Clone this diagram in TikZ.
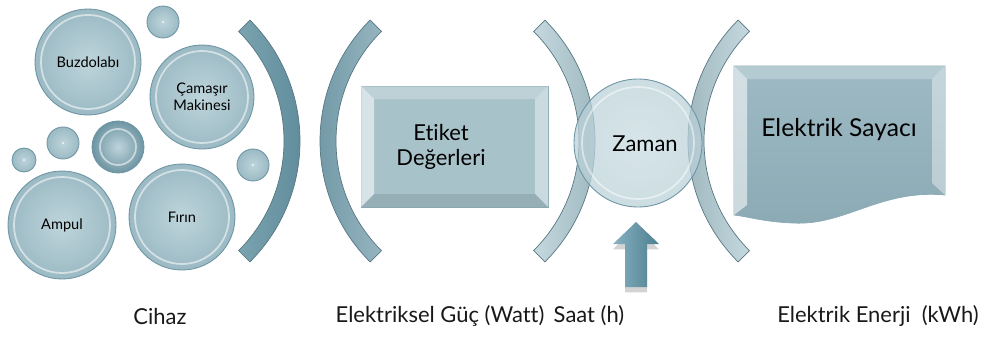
\documentclass[tikz,border=0pt]{standalone}
\usepackage{fontspec}
\setmainfont{Lato}[Ligatures=NoCommon]
\usetikzlibrary{shadows}
\definecolor{bin}{HTML}{BED4DB}
\definecolor{bout}{HTML}{9BBAC4}
\definecolor{bedge}{HTML}{6E95A3}
\definecolor{rectf}{HTML}{A8C2CA}
\definecolor{docf}{HTML}{93B3BE}
\definecolor{arrowl}{HTML}{86B2C1}
\definecolor{arrowr}{HTML}{4D7E8F}
\definecolor{arcd}{HTML}{5A8797}
\definecolor{arcm}{HTML}{7BA3B0}
\begin{document}
\begin{tikzpicture}[x=0.02cm,y=-0.02cm,
  bubble/.style={circle, draw=bedge, line width=0.5pt, inner color=bin, outer color=bout,
    inner sep=0pt, align=center, font=\fontsize{8.3}{9.5}\selectfont, text=black, minimum size=#1},
  ring/.style={draw=white, opacity=0.55, line width=1pt},
  arcedge/.style={draw=bedge!80!black, line width=0.4pt},
  bevlight/.style={fill=white, opacity=0.45},
  bevdark/.style={fill=black, opacity=0.10},
  lbl/.style={font=\fontsize{12.5}{14}\selectfont, text=black!90, anchor=center},
  bigtxt/.style={font=\fontsize{12.5}{14.5}\selectfont, text=black, align=center}]
\useasboundingbox (0,0) rectangle (1000,338);

% ---------- bubbles (devices) ----------
\node[bubble=2.12cm] (buz) at (88,62) {Buzdolabı};
\node[bubble=2.08cm] (cam) at (202,97) {Çamaşır\\Makinesi};
\node[bubble=2.16cm] (amp) at (62,225) {Ampul};
\node[bubble=2.12cm] (fir) at (182,217) {Fırın};
\node[bubble=0.64cm] (b1) at (163,22) {};
\node[bubble=0.64cm] (b2) at (63,143) {};
\node[bubble=0.48cm] (b3) at (24,160) {};
\node[bubble=1.04cm, inner color=bin, outer color=bedge] (b4) at (118,147) {};
\node[bubble=0.64cm] (b5) at (253,165) {};
\draw[ring] (buz.center) circle[radius=47];
\draw[ring] (cam.center) circle[radius=46];
\draw[ring] (amp.center) circle[radius=48];
\draw[ring] (fir.center) circle[radius=47];
\draw[ring] (b4.center) circle[radius=18];
\foreach \b in {b1,b2,b3,b5} \fill[white,opacity=0.8] (\b.center) circle[radius=1.2];

% ---------- arcs ----------
\path[arcedge, left color=arcm, right color=arcd]
  ([shift={(129,141)}]-45:171) arc[start angle=-45,end angle=45,radius=171]
  -- ([shift={(129,141)}]45:155) arc[start angle=45,end angle=-45,radius=155] -- cycle;
\path[arcedge, left color=arcd!90, right color=arcm!80]
  ([shift={(491,141)}]135:171) arc[start angle=135,end angle=225,radius=171]
  -- ([shift={(491,141)}]225:155) arc[start angle=225,end angle=135,radius=155] -- cycle;
\path[arcedge, left color=bin, right color=bout!90!black, fill opacity=0.9]
  ([shift={(424,141)}]-45:171) arc[start angle=-45,end angle=45,radius=171]
  -- ([shift={(424,141)}]45:155) arc[start angle=45,end angle=-45,radius=155] -- cycle;
\path[arcedge, left color=bout!90!black, right color=bin, fill opacity=0.9]
  ([shift={(859,141)}]135:171) arc[start angle=135,end angle=225,radius=171]
  -- ([shift={(859,141)}]225:155) arc[start angle=225,end angle=135,radius=155] -- cycle;

% ---------- Etiket Degerleri (bevelled rectangle) ----------
\node[draw=bedge!80, line width=0.4pt, fill=rectf, minimum width=3.74cm, minimum height=2.42cm,
  inner sep=0pt] (etiket) at (454.5,146.5) {};
\fill[bevlight, opacity=0.25] (361,86) -- (548,86) -- (535,99) -- (374,99) -- cycle;
\fill[bevlight, opacity=0.55] (361,86) -- (374,99) -- (374,194) -- (361,207) -- cycle;
\fill[bevlight, opacity=0.40] (548,86) -- (535,99) -- (535,194) -- (548,207) -- cycle;
\fill[bevdark] (361,207) -- (374,194) -- (535,194) -- (548,207) -- cycle;
\node[bigtxt] at (441,147) {Etiket\\Değerleri};

% ---------- Zaman ----------
\node[circle, draw=bedge, line width=0.5pt, inner color=bin!85!white, outer color=bin!85!bout,
  fill opacity=0.72, minimum size=2.56cm, inner sep=0pt] (zaman) at (638,143) {};
\draw[ring, opacity=0.5] (zaman.center) circle[radius=56];
\node[bigtxt] at (645,144) {Zaman};

% ---------- Elektrik Sayaci (document shape) ----------
\path[draw=bedge!80, line width=0.4pt, top color=docf!90!white, bottom color=docf!95!black]
  (734,66) -- (945,66) -- (945,195)
  .. controls (880,189) and (845,226) .. (793,223)
  .. controls (765,222) and (750,217) .. (734,215) -- cycle;
\node (sayac) at (839,140) {};
\fill[bevlight, opacity=0.25] (734,66) -- (945,66) -- (932,79) -- (747,79) -- cycle;
\fill[bevlight, opacity=0.55] (734,66) -- (747,79) -- (747,205) -- (734,215) -- cycle;
\fill[bevlight, opacity=0.40] (945,66) -- (932,79) -- (932,183) -- (945,195) -- cycle;
\node[bigtxt, font=\fontsize{14}{16}\selectfont] at (839,130) {Elektrik Sayacı};

% ---------- arrow ----------
\path[left color=arrowl, right color=arrowr, drop shadow={shadow xshift=0pt, shadow yshift=-3pt, opacity=0.35}]
  (636,222) coordinate (atip) -- (659,244) -- (647,244) -- (647,287) -- (625,287) -- (625,244) -- (613,244) -- cycle;
\coordinate (abase) at (636,287);

% ---------- bottom labels ----------
\node[lbl] (l1) at (160,316) {Cihaz};
\node[lbl] (l2) at (440,316) {Elektriksel Güç (Watt)};
\node[lbl] (l3) at (589,316) {Saat (h)};
\node[lbl] (l4) at (878,316) {Elektrik Enerji\ \ (kWh)};
\end{tikzpicture}
\end{document}
